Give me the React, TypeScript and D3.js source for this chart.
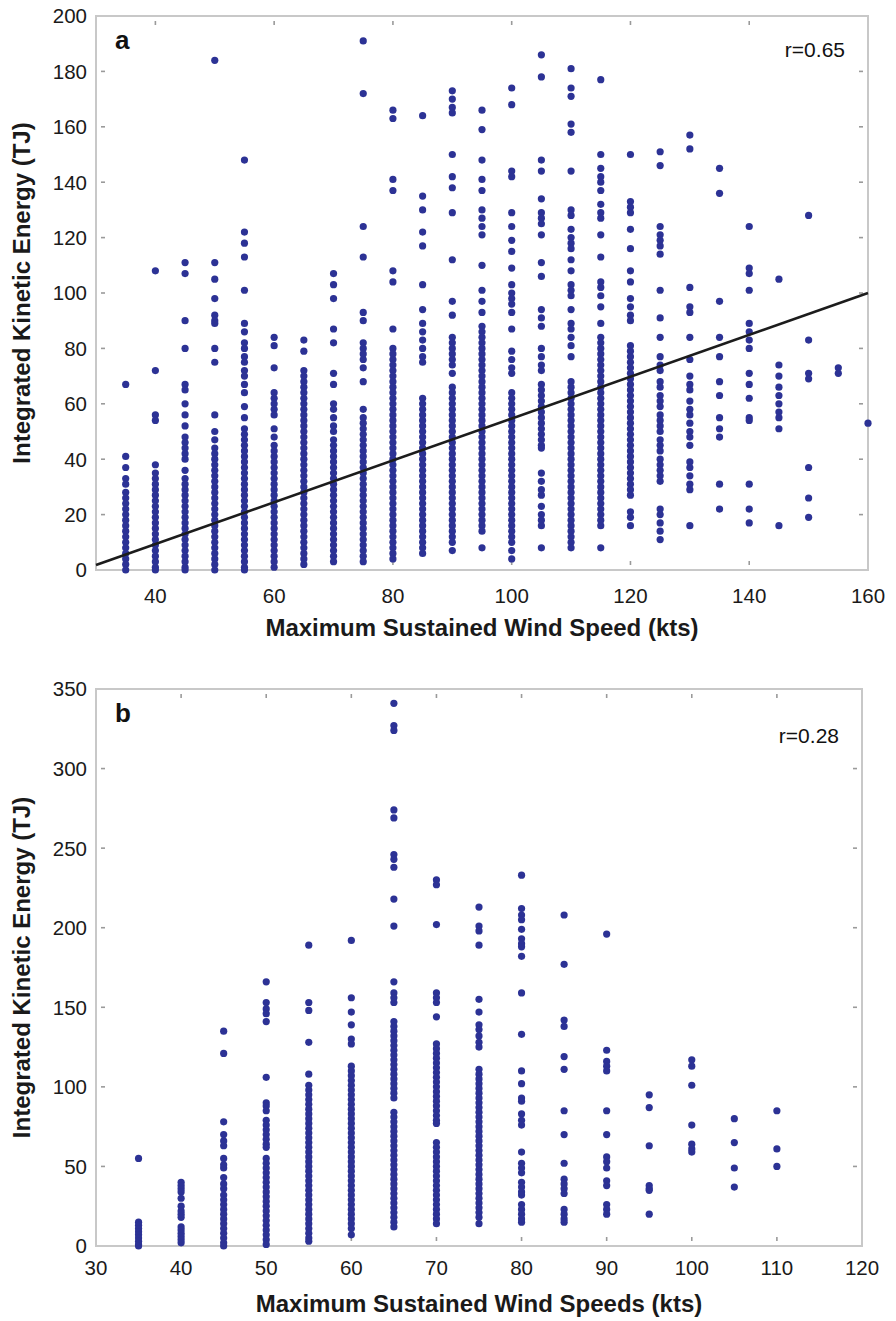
import React from "react";
import * as d3 from "d3";

// panel a: wind speed columns (kts) and IKE values (TJ)
const speedsA = [35, 40, 45, 50, 55, 60, 65, 70, 75, 80, 85, 90, 95, 100, 105, 110, 115, 120, 125, 130, 135, 140, 145, 150, 155, 160];

const a35 = [67, 41, 37, 33, 31, 28, 26, 24, 22, 20, 18, 16, 14, 12, 10, 8, 6, 4, 2, 0];
const a40 = [108, 72, 56, 54, 38, 35, 33, 31, 29, 27, 25, 23, 21, 19, 17, 15, 13, 11, 9, 7, 5, 3, 1, 0];
const a45 = [111, 107, 90, 80, 67, 65, 60, 56, 52, 48, 46, 44, 42, 40, 36, 33, 31, 29, 27, 25, 23, 21, 19, 17, 15, 13, 11, 9, 7, 5, 3, 1, 0];
const a50 = [184, 111, 105, 98, 92, 90, 89, 80, 75, 56, 50, 47, 44, 42, 40, 38, 36, 34, 32, 30, 28, 26, 24, 22, 20, 18, 16, 14, 12, 10, 8, 6, 4, 2, 0];
const a55 = [148, 122, 118, 113, 101, 89, 86, 82, 80, 77, 75, 72, 70, 67, 64, 59, 55, 51, 49, 47, 45, 43, 41, 39, 37, 35, 33, 31, 29, 27, 25, 23, 21, 19, 17, 15, 13, 11, 9, 7, 5, 3, 1, 0];
const a60 = [84, 81, 73, 64, 62, 60, 58, 56, 51, 48, 45, 43, 41, 39, 37, 35, 33, 31, 29, 27, 25, 23, 21, 19, 17, 15, 13, 11, 9, 7, 5, 3, 1];
const a65 = [83, 79, 72, 70, 68, 66, 64, 62, 60, 58, 56, 54, 52, 50, 48, 46, 44, 42, 40, 38, 36, 34, 32, 30, 28, 26, 24, 22, 20, 18, 16, 14, 12, 10, 8, 6, 4, 2];
const a70 = [107, 103, 98, 87, 82, 71, 67, 60, 58, 55, 52, 50, 47, 45, 43, 41, 39, 37, 35, 33, 31, 29, 27, 25, 23, 21, 19, 17, 15, 13, 11, 9, 7, 5, 3];
const a75 = [191, 172, 124, 113, 93, 90, 82, 80, 78, 76, 73, 68, 58, 55, 53, 51, 49, 47, 45, 43, 41, 39, 37, 35, 33, 31, 29, 27, 25, 23, 21, 19, 17, 15, 13, 11, 9, 7, 5, 3];
const a80 = [166, 163, 141, 137, 108, 104, 87, 80, 78, 76, 74, 72, 70, 68, 66, 64, 62, 60, 58, 56, 54, 52, 50, 48, 46, 44, 42, 40, 38, 36, 34, 32, 30, 28, 26, 24, 22, 20, 18, 16, 14, 12, 10, 8, 6, 4];
const a85 = [164, 135, 130, 122, 117, 103, 94, 89, 86, 83, 80, 77, 75, 62, 60, 58, 56, 54, 52, 50, 48, 46, 44, 42, 40, 38, 36, 34, 32, 30, 28, 26, 24, 22, 20, 18, 16, 14, 12, 10, 8, 6];
const a90 = [173, 170, 167, 165, 150, 142, 138, 129, 112, 97, 92, 84, 82, 80, 78, 76, 74, 71, 66, 64, 62, 60, 58, 56, 54, 52, 50, 48, 46, 44, 42, 40, 38, 36, 34, 32, 30, 28, 26, 24, 22, 20, 18, 16, 14, 12, 10, 7];
const a95 = [166, 159, 148, 141, 137, 130, 127, 124, 121, 110, 101, 97, 93, 88, 86, 84, 82, 80, 78, 76, 74, 72, 70, 68, 66, 64, 62, 60, 58, 56, 54, 52, 50, 48, 46, 44, 42, 40, 38, 36, 34, 32, 30, 28, 26, 24, 22, 20, 18, 16, 14, 8];
const a100 = [174, 168, 144, 142, 129, 124, 119, 115, 109, 103, 100, 98, 96, 93, 87, 79, 76, 73, 71, 64, 62, 60, 58, 56, 54, 52, 50, 48, 46, 44, 42, 40, 38, 36, 34, 32, 30, 28, 26, 24, 22, 20, 18, 16, 14, 12, 10, 7, 4];
const a105 = [186, 178, 148, 144, 134, 129, 127, 125, 121, 111, 106, 94, 91, 88, 80, 77, 74, 72, 67, 65, 63, 61, 59, 57, 55, 53, 51, 49, 47, 45, 44, 35, 32, 29, 27, 23, 20, 18, 16, 8];
const a110 = [181, 174, 171, 161, 158, 144, 130, 128, 123, 120, 118, 116, 112, 108, 103, 101, 99, 94, 89, 87, 84, 81, 77, 68, 66, 64, 62, 60, 58, 56, 54, 52, 50, 48, 46, 44, 42, 40, 38, 36, 34, 32, 30, 28, 26, 24, 22, 20, 18, 16, 14, 12, 10, 8];
const a115 = [177, 150, 145, 142, 140, 137, 132, 129, 127, 121, 113, 104, 102, 99, 95, 89, 84, 82, 80, 78, 76, 74, 72, 70, 68, 66, 64, 62, 60, 58, 56, 54, 52, 50, 48, 46, 44, 42, 40, 38, 36, 34, 32, 30, 28, 26, 24, 22, 20, 18, 16, 8];
const a120 = [150, 133, 131, 129, 123, 116, 108, 104, 98, 95, 92, 90, 81, 79, 77, 75, 73, 71, 69, 67, 65, 63, 61, 59, 57, 55, 53, 51, 49, 47, 45, 43, 41, 39, 37, 35, 33, 31, 29, 27, 21, 19, 16];
const a125 = [151, 146, 124, 121, 119, 117, 114, 101, 91, 84, 77, 74, 72, 68, 66, 63, 61, 59, 56, 54, 52, 50, 47, 45, 43, 40, 38, 36, 34, 32, 22, 20, 17, 14, 11];
const a130 = [157, 152, 102, 95, 93, 84, 76, 70, 67, 65, 61, 58, 56, 53, 50, 48, 45, 39, 37, 34, 31, 29, 16];
const a135 = [145, 136, 97, 84, 77, 68, 63, 55, 51, 48, 31, 22];
const a140 = [124, 109, 107, 101, 89, 86, 83, 80, 71, 67, 62, 55, 54, 31, 22, 17];
const a145 = [105, 74, 70, 66, 63, 60, 57, 55, 51, 16];
const a150 = [128, 83, 71, 69, 37, 26, 19];
const a155 = [73, 71];
const a160 = [53];

const valuesA = [a35, a40, a45, a50, a55, a60, a65, a70, a75, a80, a85, a90, a95, a100, a105, a110, a115, a120, a125, a130, a135, a140, a145, a150, a155, a160];

// least squares line of panel a, end points
const fitSpeed = [30, 160];
const fitIke = [1.8, 100];

// panel b
const speedsB = [35, 40, 45, 50, 55, 60, 65, 70, 75, 80, 85, 90, 95, 100, 105, 110];

const b35 = [55, 15, 13, 11, 9, 7, 5, 3, 1, 0];
const b40 = [40, 38, 36, 34, 30, 25, 22, 20, 18, 12, 10, 8, 6, 4, 2];
const b45 = [135, 121, 78, 70, 66, 63, 55, 51, 49, 43, 39, 36, 32, 29, 26, 23, 20, 17, 14, 11, 8, 5, 2, 0];
const b50 = [166, 153, 149, 146, 141, 106, 90, 88, 85, 79, 76, 73, 70, 67, 64, 62, 55, 52, 49, 46, 43, 40, 37, 34, 31, 28, 25, 22, 19, 16, 13, 10, 7, 4, 1];
const b55 = [189, 153, 148, 128, 108, 101, 98, 95, 92, 89, 86, 83, 80, 77, 74, 71, 68, 65, 62, 59, 56, 53, 50, 47, 44, 41, 38, 35, 32, 29, 26, 23, 20, 17, 14, 11, 8, 5, 3];
const b60 = [192, 156, 147, 139, 130, 127, 113, 110, 107, 104, 101, 98, 95, 92, 89, 86, 83, 80, 77, 74, 71, 68, 65, 62, 59, 56, 53, 50, 47, 44, 41, 38, 35, 32, 29, 26, 23, 20, 17, 14, 11, 7];
const b65 = [341, 327, 324, 274, 269, 246, 243, 238, 218, 201, 166, 159, 156, 153, 141, 138, 135, 132, 129, 126, 123, 120, 117, 114, 111, 108, 105, 102, 99, 96, 93, 84, 81, 78, 75, 72, 69, 66, 63, 60, 57, 54, 51, 48, 45, 42, 39, 36, 33, 30, 27, 24, 21, 18, 15, 12];
const b70 = [230, 227, 202, 159, 156, 153, 144, 127, 124, 121, 118, 115, 112, 109, 106, 103, 100, 97, 94, 91, 88, 85, 82, 79, 77, 65, 62, 59, 56, 53, 50, 47, 44, 41, 38, 35, 32, 29, 26, 23, 20, 17, 14];
const b75 = [213, 201, 198, 189, 155, 147, 139, 136, 132, 128, 125, 111, 108, 105, 102, 99, 96, 93, 90, 87, 84, 81, 78, 75, 72, 69, 66, 63, 60, 57, 54, 51, 48, 45, 42, 39, 36, 33, 30, 27, 24, 21, 18, 14];
const b80 = [233, 212, 208, 205, 199, 193, 190, 188, 182, 159, 133, 110, 102, 93, 91, 83, 79, 76, 59, 52, 49, 46, 40, 37, 34, 32, 26, 23, 20, 17, 15];
const b85 = [208, 177, 142, 138, 119, 111, 85, 70, 52, 42, 39, 36, 33, 23, 20, 17, 15];
const b90 = [196, 123, 116, 113, 110, 85, 70, 56, 53, 49, 41, 38, 26, 23, 20];
const b95 = [95, 87, 63, 38, 36, 35, 20];
const b100 = [117, 113, 101, 76, 64, 61, 59];
const b105 = [80, 65, 49, 37];
const b110 = [85, 61, 50];

const valuesB = [b35, b40, b45, b50, b55, b60, b65, b70, b75, b80, b85, b90, b95, b100, b105, b110];

const ticksXA = [40, 60, 80, 100, 120, 140, 160];
const ticksYA = [0, 20, 40, 60, 80, 100, 120, 140, 160, 180, 200];
const ticksXB = [30, 40, 50, 60, 70, 80, 90, 100, 110, 120];
const ticksYB = [0, 50, 100, 150, 200, 250, 300, 350];

const FONT = "'Liberation Sans', Arial, Helvetica, sans-serif";
const DOT = "#2c3295";

type PanelProps = {
  top: number;
  bottom: number;
  right: number;
  xDomain: [number, number];
  yDomain: [number, number];
  xTicks: number[];
  yTicks: number[];
  speeds: number[];
  values: number[][];
  fit?: boolean;
  letter: string;
  rLabel: string;
  rDy: number;
  tickDy: number;
  xTitle: string;
};

const Panel = (p: PanelProps) => {
  const left = 96;
  const x = d3.scaleLinear().domain(p.xDomain).range([left, p.right]);
  const y = d3.scaleLinear().domain(p.yDomain).range([p.bottom, p.top]);

  const points: [number, number][] = [];
  p.speeds.forEach((s, i) => p.values[i].forEach((v) => points.push([s, v])));

  const line = d3
    .line<number>()
    .x((d) => x(fitSpeed[d]))
    .y((d) => y(fitIke[d]));

  const tickLen = 4;
  const inset = 5;
  const midY = (p.top + p.bottom) / 2;
  const midX = (left + p.right) / 2;

  return (
    <g>
      {/* inner tick marks on all four sides */}
      {p.xTicks.map((t) => (
        <g key={"xt" + t} stroke="#9a9a9a" strokeWidth={1.6}>
          <line x1={x(t)} x2={x(t)} y1={p.bottom - inset} y2={p.bottom - inset - tickLen} />
          <line x1={x(t)} x2={x(t)} y1={p.top + inset} y2={p.top + inset + tickLen} />
        </g>
      ))}
      {p.yTicks.map((t) => (
        <g key={"yt" + t} stroke="#9a9a9a" strokeWidth={1.6}>
          <line x1={left + inset} x2={left + inset + tickLen} y1={y(t)} y2={y(t)} />
          <line x1={p.right - inset} x2={p.right - inset - tickLen} y1={y(t)} y2={y(t)} />
        </g>
      ))}
      <rect
        x={left}
        y={p.top}
        width={p.right - left}
        height={p.bottom - p.top}
        fill="none"
        stroke="#c8c8c8"
        strokeWidth={2}
      />

      {points.map(([s, v], i) => (
        <circle key={i} cx={x(s)} cy={y(v)} r={3.6} fill={DOT} />
      ))}

      {p.fit && (
        <path d={line([0, 1]) || ""} fill="none" stroke="#1c1c1c" strokeWidth={2.6} />
      )}

      {/* tick labels */}
      {p.yTicks.map((t) => (
        <text
          key={"yl" + t}
          x={left - 9}
          y={y(t)}
          dy="0.36em"
          textAnchor="end"
          fontSize={20.5}
          fontFamily={FONT}
          fill="#1a1a1a"
        >
          {t}
        </text>
      ))}
      {p.xTicks.map((t) => (
        <text
          key={"xl" + t}
          x={x(t)}
          y={p.bottom + p.tickDy}
          textAnchor="middle"
          fontSize={20.5}
          fontFamily={FONT}
          fill="#1a1a1a"
        >
          {t}
        </text>
      ))}

      <text x={left + 19} y={p.top + 33} fontSize={26} fontWeight="bold" fontFamily={FONT} fill="#111">
        {p.letter}
      </text>
      <text x={p.right - 23} y={p.top + p.rDy} textAnchor="end" fontSize={21} fontFamily={FONT} fill="#111">
        {p.rLabel}
      </text>

      <text
        x={midX}
        y={p.bottom + 66}
        textAnchor="middle"
        fontSize={24}
        fontWeight="bold"
        fontFamily={FONT}
        fill="#1a1a1a"
      >
        {p.xTitle}
      </text>
      <text
        transform={`translate(30,${midY}) rotate(-90)`}
        textAnchor="middle"
        fontSize={24}
        fontWeight="bold"
        fontFamily={FONT}
        fill="#1a1a1a"
      >
        Integrated Kinetic Energy (TJ)
      </text>
    </g>
  );
};

export default function App() {
  return (
    <svg
      width={896}
      height={1321}
      viewBox="0 0 896 1321"
      style={{ position: "absolute", left: 0, top: 0, background: "#fff" }}
    >
      <rect width={896} height={1321} fill="#fff" />
      <Panel
        top={16}
        bottom={570}
        right={868}
        xDomain={[30, 160]}
        yDomain={[0, 200]}
        xTicks={ticksXA}
        yTicks={ticksYA}
        speeds={speedsA}
        values={valuesA}
        fit
        letter="a"
        rLabel="r=0.65"
        rDy={41}
        tickDy={33}
        xTitle="Maximum Sustained Wind Speed (kts)"
      />
      <Panel
        top={689}
        bottom={1246}
        right={862}
        xDomain={[30, 120]}
        yDomain={[0, 350]}
        xTicks={ticksXB}
        yTicks={ticksYB}
        speeds={speedsB}
        values={valuesB}
        letter="b"
        rLabel="r=0.28"
        rDy={54}
        tickDy={29}
        xTitle="Maximum Sustained Wind Speeds (kts)"
      />
    </svg>
  );
}
